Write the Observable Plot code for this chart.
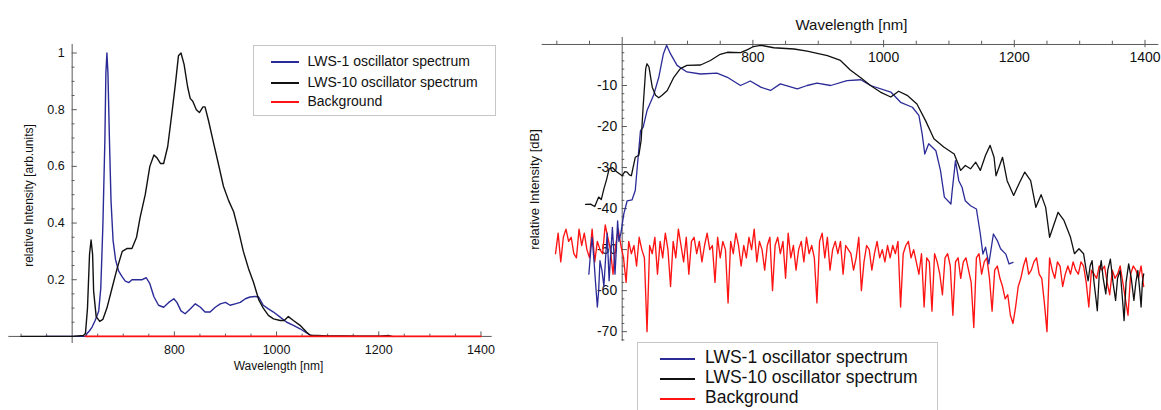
<!DOCTYPE html>
<html>
<head>
<meta charset="utf-8">
<script src="https://cdn.jsdelivr.net/npm/d3@7"></script>
<script src="https://cdn.jsdelivr.net/npm/@observablehq/plot@0.6"></script>
<style>
  html, body { margin: 0; padding: 0; background: #fff; }
  #wrap { position: relative; width: 1161px; height: 410px; overflow: hidden; font-family: "Liberation Sans", Arial, sans-serif; color: #111; }
  #wrap svg { position: absolute; top: 0; overflow: visible; }
  .legend { position: absolute; background: #fff; border: 1px solid #c6c6c6; box-sizing: border-box; }
  .lg-line { position: absolute; height: 2px; }
  .lg-text { position: absolute; white-space: nowrap; line-height: 1; }
</style>
</head>
<body>
<div id="wrap"></div>
<script>
// ---------- series names & colours ----------
const seriesNames = ["LWS-1 oscillator spectrum", "LWS-10 oscillator spectrum", "Background"];
const seriesColors = ["#2b2b98", "#111111", "#ff1414"];

// ---------- LEFT PANEL (linear, arb. units) ----------
const lws1LinNm = [548,600,626,629,634,639,645,652,656,660,664,666,668,670,673,676,680,685,691,698,704,711,717,727,737,745,752,760,769,779,789,799,805,813,821,831,841,851,860,870,880,890,900,909,919,929,939,948,958,965,974,984,994,1007,1020,1033,1046,1059,1066,1080,1200];
const lws1LinVal = [0,0,0,0.01,0.02,0.033,0.056,0.09,0.17,0.385,0.69,0.93,1.0,0.93,0.69,0.48,0.34,0.27,0.23,0.21,0.195,0.19,0.20,0.20,0.20,0.207,0.186,0.14,0.11,0.103,0.12,0.133,0.12,0.09,0.08,0.097,0.115,0.103,0.086,0.086,0.103,0.115,0.12,0.11,0.115,0.12,0.133,0.139,0.141,0.139,0.11,0.097,0.086,0.068,0.05,0.039,0.027,0.012,0.004,0,0];

const lws10LinNm = [500,600,622,626,630,634,637,640,642,647,654,660,668,678,688,698,707,717,726,733,743,752,760,766,773,779,787,795,802,808,813,819,826,831,836,843,849,856,860,867,877,886,896,906,916,926,935,945,955,965,974,984,994,1007,1015,1023,1033,1046,1059,1066,1080,1100,1130,1160,1200,1220,1226];
const lws10LinVal = [0,0,0.003,0.01,0.10,0.29,0.34,0.29,0.16,0.07,0.053,0.06,0.10,0.17,0.24,0.30,0.31,0.31,0.35,0.42,0.50,0.60,0.64,0.63,0.61,0.61,0.67,0.785,0.89,0.99,1.0,0.96,0.88,0.84,0.83,0.80,0.79,0.81,0.81,0.76,0.68,0.61,0.53,0.48,0.44,0.37,0.30,0.24,0.19,0.13,0.10,0.074,0.062,0.056,0.056,0.07,0.056,0.039,0.015,0.004,0.003,0.002,0.002,0.001,0.001,0.003,0];

const bgLinNm = [626, 1400];
const bgLinVal = [0, 0];

const leftXMinorTicks = [500,550,650,700,750,850,900,950,1050,1100,1150,1250,1300,1350];
const leftXMajorTicks = [800,1000,1200,1400];
const leftYMinorTicks = [0.05,0.1,0.15,0.25,0.3,0.35,0.45,0.5,0.55,0.65,0.7,0.75,0.85,0.9,0.95];
const leftYMajorTicks = [0.2,0.4,0.6,0.8,1];
const leftYTickLabels = ["0.2","0.4","0.6","0.8","1"];

// ---------- RIGHT PANEL (dB) ----------
const lws1DbNm = [549,552,554,557,559,562,564,566,569,572,575,577,580,582,585,587,589,591,593,595,598,602.5,607.6,615,620,623,628,632,638,648,656,663,668,674,684,699,720,745,761,781,796,812,827,842,868,883,898,919,944,965,980,1011,1026,1044,1054,1059,1063,1069,1080,1087,1093,1103,1105,1110,1115,1120,1125,1133,1142,1148,1152,1156,1161,1168,1174,1179,1187,1192,1198];
const lws1Db = [-56,-50,-47,-53,-57.6,-64,-60,-52.7,-55,-59,-51,-46,-57.6,-52,-44.6,-50,-56,-50,-43,-48,-46,-41.3,-38.1,-37.9,-35.6,-30,-21,-20.2,-16.1,-12.4,-8,-2.3,-0.2,-2.3,-5.1,-6.7,-7.2,-7,-8,-10,-8.9,-10.4,-11.2,-9.6,-10.8,-10,-9.4,-10,-8.8,-8.6,-10,-11.6,-14.1,-15.3,-17.3,-21.8,-26.7,-24.2,-25.9,-30.7,-37.2,-38.9,-35.6,-28.3,-33.2,-34.8,-38.1,-39.3,-40.1,-46.2,-51.1,-49.4,-53.5,-46.2,-47.8,-49.8,-51.1,-53.5,-53.1];

const lws10DbNm = [544,551.5,558,564,568,572,576,580,585,592,600,604,607.6,611,614,620,625.5,629,632,636,638,641,646,651,656,661,669,679,689,699,720,735,750,761,781,791,801,812,832,863,883,914,934,949,965,980,995,1011,1023,1036,1051,1064,1077,1092,1108,1118,1125,1133,1141,1148,1156,1163,1169,1172,1182,1189,1199,1207,1216,1225,1233,1241,1248,1254,1267,1276,1286,1292,1299,1306,1310,1313,1316,1319,1322,1325,1327,1330,1333,1336,1340,1343,1347,1351,1355,1358,1362,1365,1368,1371,1375,1379,1383,1386,1389,1392,1394,1396,1398];
const lws10Db = [-39,-38.9,-39.5,-37.2,-37.8,-35.2,-33,-30.3,-30,-31.1,-32,-31,-31.1,-31.8,-32,-27.5,-27,-23.4,-15.3,-5.9,-4.7,-5.5,-10.4,-12.4,-13,-12.4,-11.2,-8,-5.9,-5.1,-5,-3.9,-2.4,-1.9,-2,-1.3,-0.5,-0.2,-0.8,-1.1,-1.6,-2.7,-3.9,-6.2,-8.1,-10,-11.6,-12.8,-11.4,-12.4,-14.5,-18.5,-23,-25,-26.7,-30.7,-29.5,-30.3,-28.7,-30.7,-27,-24.6,-27.5,-32,-27.5,-33.2,-36.8,-34,-31.1,-33.2,-39.7,-36.6,-39.7,-47,-40.9,-42.9,-47,-51,-49.8,-51,-55,-57.6,-54,-52.7,-58,-62,-64.9,-56,-52.7,-57,-60.8,-55,-52.3,-58,-62.4,-57,-55.1,-61,-67.3,-58,-53.5,-57,-62.4,-58,-55.1,-60,-64,-58,-55.9];

const bgDbNm = [
  498,502,506,510,514,518,522,526,530,534,
  538,542,546,550,554,558,562,566,570,574,
  578,582,586,590,594,598,602,606,610,614,
  618,622,626,630,634,638,642,646,650,654,
  658,662,666,670,674,678,682,686,690,694,
  698,702,706,710,714,718,722,726,730,734,
  738,742,746,750,754,758,762,766,770,774,
  778,782,786,790,794,798,802,806,810,814,
  818,822,826,830,834,838,842,846,850,854,
  858,862,866,870,874,878,882,886,890,894,
  898,902,906,910,914,918,922,926,930,934,
  938,942,946,950,954,958,962,966,970,974,
  978,982,986,990,994,998,1002,1006,1010,1014,
  1018,1022,1026,1030,1034,1038,1042,1046,1050,1054,
  1058,1062,1066,1070,1074,1078,1082,1086,1090,1094,
  1098,1102,1106,1110,1114,1118,1122,1126,1130,1134,
  1138,1142,1146,1150,1154,1158,1162,1166,1170,1174,
  1178,1182,1186,1190,1194,1198,1202,1206,1210,1214,
  1218,1222,1226,1230,1234,1238,1242,1246,1250,1254,
  1258,1262,1266,1270,1274,1278,1282,1286,1290,1294,
  1298,1302,1306,1310,1314,1318,1322,1326,1330,1334,
  1338,1342,1346,1350,1354,1358,1362,1366,1370,1374,
  1378,1382,1386,1390,1394,1398];
const bgDb = [
  -51,-46,-53,-47,-45,-48,-47,-51,-52,-45,
  -49,-46,-50,-52,-45,-53,-48,-50,-51,-44,
  -47,-50,-56,-49,-45,-49,-52,-58,-48,-51,
  -49,-54,-47,-50,-52,-70,-49,-51,-47,-56,
  -48,-52,-46,-50,-59,-48,-52,-45,-49,-53,
  -47,-56,-48,-47,-51,-48,-53,-49,-46,-50,
  -49,-58,-47,-52,-48,-50,-63,-48,-51,-46,
  -49,-54,-49,-52,-47,-50,-45,-53,-48,-50,
  -55,-49,-47,-60,-49,-47,-51,-48,-57,-46,
  -52,-49,-55,-50,-48,-53,-47,-51,-49,-52,
  -63,-48,-46,-52,-47,-55,-50,-48,-51,-48,
  -56,-49,-50,-51,-55,-52,-47,-60,-53,-49,
  -50,-55,-51,-48,-52,-50,-53,-49,-52,-49,
  -51,-48,-64,-51,-49,-48,-52,-50,-53,-56,
  -51,-64,-52,-53,-65,-51,-53,-56,-61,-52,
  -51,-54,-66,-53,-52,-57,-53,-52,-55,-58,
  -69,-52,-51,-56,-53,-52,-57,-65,-55,-54,
  -57,-59,-62,-61,-66,-68,-64,-59,-57,-54,
  -52,-56,-55,-53,-52,-56,-57,-63,-70,-52,
  -55,-57,-53,-54,-59,-56,-54,-56,-53,-55,
  -56,-53,-54,-58,-64,-55,-56,-57,-54,-55,
  -54,-58,-61,-55,-57,-56,-54,-58,-62,-66,
  -56,-54,-55,-57,-54,-59];

const rightXMinorTicks = [500,550,650,700,750,850,900,950,1050,1100,1150,1250,1300,1350];
const rightXMajorTicks = [800,1000,1200,1400];
const rightYMajorTicks = [-10,-20,-30,-40,-50,-60,-70];
const rightYMinorTicks = [-2,-4,-6,-8,-12,-14,-16,-18,-22,-24,-26,-28,-32,-34,-36,-38,-42,-44,-46,-48,-52,-54,-56,-58,-62,-64,-66,-68,-72];
const rightYTickLabels = ["-10","-20","-30","-40","-50","-60","-70"];

// ---------- helpers ----------
const zip = (xs, ys) => xs.map((x, i) => ({x, y: ys[i]}));
const axisColor = "#5a5a5a";
const font = "Liberation Sans, Arial, Helvetica, sans-serif";
const wrap = document.getElementById("wrap");

// ---------- LEFT PLOT ----------
const left = Plot.plot({
  width: 520, height: 410,
  marginLeft: 8.3, marginRight: 28.3, marginTop: 44, marginBottom: 67,
  x: {domain: [476, 1422], axis: null},
  y: {domain: [-0.025, 1.03], axis: null},
  style: {fontFamily: font, background: "transparent", color: "#111"},
  marks: [
    Plot.ruleY([0], {x1: 476, x2: 1422, stroke: axisColor, strokeWidth: 1}),
    Plot.ruleX([600], {y1: -0.025, y2: 1.03, stroke: axisColor, strokeWidth: 1}),
    Plot.ruleX(leftXMinorTicks, {x: d => d, y1: 0, y2: 0.008, stroke: axisColor}),
    Plot.ruleX(leftXMajorTicks, {x: d => d, y1: 0, y2: 0.016, stroke: axisColor}),
    Plot.text(leftXMajorTicks, {x: d => d, y: 0, dy: 14, text: d => String(d), fontSize: 12.5, fill: "#111"}),
    Plot.ruleY(leftYMinorTicks, {y: d => d, x1: 600, x2: 605.5, stroke: axisColor}),
    Plot.ruleY(leftYMajorTicks, {y: d => d, x1: 600, x2: 610, stroke: axisColor}),
    Plot.text(leftYMajorTicks, {x: 600, y: d => d, dx: -7.5, textAnchor: "end", text: (d, i) => leftYTickLabels[i], fontSize: 12.5, fill: "#111"}),
    Plot.text(["Wavelength [nm]"], {frameAnchor: "bottom", textAnchor: "middle", dx: 28, dy: 26, fontSize: 12, fill: "#111", letterSpacing: -0.2}),
    Plot.text(["relative Intensity [arb.units]"], {frameAnchor: "left", textAnchor: "middle", dx: 20, dy: 1.5, rotate: -90, fontSize: 12, fill: "#111", letterSpacing: -0.2}),
    Plot.line(zip(lws1LinNm, lws1LinVal), {x: "x", y: "y", stroke: seriesColors[0], strokeWidth: 1.4}),
    Plot.line(zip(lws10LinNm, lws10LinVal), {x: "x", y: "y", stroke: seriesColors[1], strokeWidth: 1.4}),
    Plot.line(zip(bgLinNm, bgLinVal), {x: "x", y: "y", stroke: seriesColors[2], strokeWidth: 1.6})
  ]
});
left.style.left = "0px";
wrap.appendChild(left);

// ---------- RIGHT PLOT ----------
const right = Plot.plot({
  width: 641, height: 410,
  marginLeft: 21.7, marginRight: 2.7, marginTop: 37, marginBottom: 69,
  x: {domain: [477.6, 1421.1], axis: null},
  y: {domain: [-72.4, 1.7], axis: null},
  style: {fontFamily: font, background: "transparent", color: "#111"},
  marks: [
    Plot.ruleY([0], {x1: 477.6, x2: 1421.1, stroke: axisColor, strokeWidth: 1}),
    Plot.ruleX([600], {y1: -72.4, y2: 1.7, stroke: axisColor, strokeWidth: 1}),
    Plot.ruleX(rightXMinorTicks, {x: d => d, y1: 0, y2: 0.8, stroke: axisColor}),
    Plot.ruleX(rightXMajorTicks, {x: d => d, y1: -0.8, y2: 1.0, stroke: axisColor}),
    Plot.text(rightXMajorTicks, {x: d => d, y: 0, dy: 13.5, text: d => String(d), fontSize: 14, fill: "#111"}),
    Plot.ruleY(rightYMinorTicks, {y: d => d, x1: 600, x2: 604, stroke: axisColor}),
    Plot.ruleY(rightYMajorTicks, {y: d => d, x1: 600, x2: 608, stroke: axisColor}),
    Plot.text(rightYMajorTicks, {x: 600, y: d => d, dx: -5, textAnchor: "end", text: (d, i) => rightYTickLabels[i], fontSize: 14, fill: "#111", letterSpacing: 0.5}),
    Plot.text(["Wavelength [nm]"], {frameAnchor: "top", textAnchor: "middle", dx: 1, dy: -18, fontSize: 15, fill: "#111", letterSpacing: -0.3}),
    Plot.text(["relative Intensity [dB]"], {frameAnchor: "left", textAnchor: "middle", dx: -7, dy: 0, rotate: -90, fontSize: 13, fill: "#111", letterSpacing: -0.3}),
    Plot.line(zip(bgDbNm, bgDb), {x: "x", y: "y", stroke: seriesColors[2], strokeWidth: 1.35}),
    Plot.line(zip(lws1DbNm, lws1Db), {x: "x", y: "y", stroke: seriesColors[0], strokeWidth: 1.3}),
    Plot.line(zip(lws10DbNm, lws10Db), {x: "x", y: "y", stroke: seriesColors[1], strokeWidth: 1.3})
  ]
});
right.style.left = "520px";
wrap.appendChild(right);

// ---------- LEGENDS ----------
function legend(box, rowYs, lineX0, lineX1, textX, fontSize) {
  const div = document.createElement("div");
  div.className = "legend";
  Object.assign(div.style, {left: box[0] + "px", top: box[1] + "px", width: box[2] + "px", height: box[3] + "px"});
  wrap.appendChild(div);
  seriesNames.forEach((name, i) => {
    const ln = document.createElement("div");
    ln.className = "lg-line";
    Object.assign(ln.style, {left: (lineX0 - box[0]) + "px", top: (rowYs[i] - box[1] - 1) + "px", width: (lineX1 - lineX0) + "px", background: seriesColors[i]});
    div.appendChild(ln);
    const tx = document.createElement("div");
    tx.className = "lg-text";
    tx.textContent = name;
    Object.assign(tx.style, {left: (textX - box[0]) + "px", top: (rowYs[i] - box[1] - fontSize * 0.55) + "px", fontSize: fontSize + "px"});
    div.appendChild(tx);
  });
}
legend([253, 45, 243, 71], [61, 81.5, 101], 270, 298, 306.5, 14);
legend([637, 342, 301, 80], [358, 378, 397.5], 659, 694, 704, 17.5);
</script>
</body>
</html>
